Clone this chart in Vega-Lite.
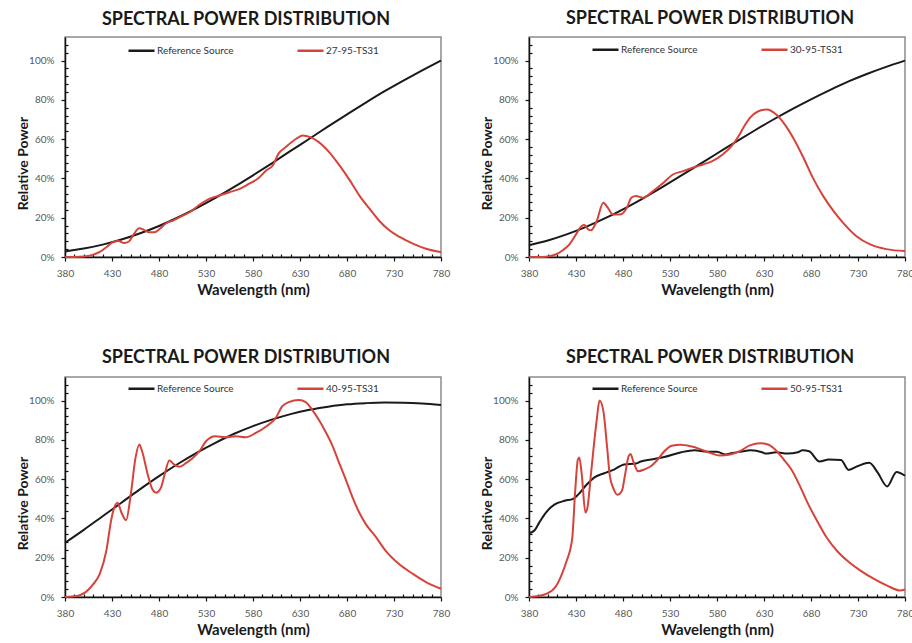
{
"$schema": "https://vega.github.io/schema/vega-lite/v6.json",
"padding": {"left": 15, "top": 9, "right": 0, "bottom": 0},
"background": "white",
"config": {
  "view": {"stroke": "#8c8c8c", "strokeWidth": 1.5},
  "axis": {"domainColor": "#111", "domainWidth": 1.5, "tickColor": "#111", "tickWidth": 1.2, "labelColor": "#595959", "labelFont": "Lato", "labelFontSize": 10, "titleFont": "Lato", "titleFontWeight": "bold", "titleColor": "#1a1a1a", "grid": false, "labelOverlap": false, "labelFlush": false},
  "title": {"font": "Lato", "fontSize": 18, "fontWeight": "bold", "color": "#1a1a1a", "dx": -7, "offset": 7},
  "legend": {"labelFont": "Lato", "labelFontSize": 10, "labelColor": "#333"}
},
"data": {"values": [
{"p":1,"s":"Reference Source","w":380,"v":2.8},{"p":1,"s":"Reference Source","w":400,"v":4.3},{"p":1,"s":"Reference Source","w":420,"v":6.3},{"p":1,"s":"Reference Source","w":440,"v":8.9},{"p":1,"s":"Reference Source","w":460,"v":12.1},{"p":1,"s":"Reference Source","w":480,"v":15.8},{"p":1,"s":"Reference Source","w":500,"v":20.1},{"p":1,"s":"Reference Source","w":520,"v":24.9},{"p":1,"s":"Reference Source","w":540,"v":30.1},{"p":1,"s":"Reference Source","w":560,"v":35.7},{"p":1,"s":"Reference Source","w":580,"v":41.6},{"p":1,"s":"Reference Source","w":600,"v":47.7},{"p":1,"s":"Reference Source","w":620,"v":54.0},{"p":1,"s":"Reference Source","w":640,"v":60.2},{"p":1,"s":"Reference Source","w":660,"v":66.5},{"p":1,"s":"Reference Source","w":680,"v":72.6},{"p":1,"s":"Reference Source","w":700,"v":78.6},{"p":1,"s":"Reference Source","w":720,"v":84.4},{"p":1,"s":"Reference Source","w":740,"v":89.8},{"p":1,"s":"Reference Source","w":760,"v":95.0},{"p":1,"s":"Reference Source","w":780,"v":100},
{"p":1,"s":"27-95-TS31","w":380,"v":0},{"p":1,"s":"27-95-TS31","w":390,"v":0},{"p":1,"s":"27-95-TS31","w":400,"v":0.2},{"p":1,"s":"27-95-TS31","w":410,"v":1.2},{"p":1,"s":"27-95-TS31","w":417,"v":2.6},{"p":1,"s":"27-95-TS31","w":424,"v":5},{"p":1,"s":"27-95-TS31","w":431,"v":7.6},{"p":1,"s":"27-95-TS31","w":437,"v":8.1},{"p":1,"s":"27-95-TS31","w":443,"v":7.1},{"p":1,"s":"27-95-TS31","w":448,"v":7.9},{"p":1,"s":"27-95-TS31","w":453,"v":11.5},{"p":1,"s":"27-95-TS31","w":459,"v":14.6},{"p":1,"s":"27-95-TS31","w":464,"v":13.8},{"p":1,"s":"27-95-TS31","w":469,"v":12.6},{"p":1,"s":"27-95-TS31","w":475,"v":12.6},{"p":1,"s":"27-95-TS31","w":481,"v":14.4},{"p":1,"s":"27-95-TS31","w":488,"v":17.3},{"p":1,"s":"27-95-TS31","w":495,"v":18.6},{"p":1,"s":"27-95-TS31","w":502,"v":20.3},{"p":1,"s":"27-95-TS31","w":513,"v":22.9},{"p":1,"s":"27-95-TS31","w":523,"v":26.6},{"p":1,"s":"27-95-TS31","w":534,"v":29.7},{"p":1,"s":"27-95-TS31","w":545,"v":31.4},{"p":1,"s":"27-95-TS31","w":555,"v":33},{"p":1,"s":"27-95-TS31","w":566,"v":34.7},{"p":1,"s":"27-95-TS31","w":576,"v":37.3},{"p":1,"s":"27-95-TS31","w":585,"v":39.8},{"p":1,"s":"27-95-TS31","w":594,"v":44},{"p":1,"s":"27-95-TS31","w":601,"v":46.6},{"p":1,"s":"27-95-TS31","w":607,"v":52.5},{"p":1,"s":"27-95-TS31","w":615,"v":56},{"p":1,"s":"27-95-TS31","w":626,"v":60.2},{"p":1,"s":"27-95-TS31","w":633,"v":61.9},{"p":1,"s":"27-95-TS31","w":641,"v":61},{"p":1,"s":"27-95-TS31","w":650,"v":58.5},{"p":1,"s":"27-95-TS31","w":661,"v":53.4},{"p":1,"s":"27-95-TS31","w":672,"v":46.6},{"p":1,"s":"27-95-TS31","w":683,"v":39},{"p":1,"s":"27-95-TS31","w":693,"v":31.4},{"p":1,"s":"27-95-TS31","w":704,"v":24.6},{"p":1,"s":"27-95-TS31","w":714,"v":18.6},{"p":1,"s":"27-95-TS31","w":725,"v":13.6},{"p":1,"s":"27-95-TS31","w":736,"v":10.2},{"p":1,"s":"27-95-TS31","w":750,"v":6.8},{"p":1,"s":"27-95-TS31","w":764,"v":4.2},{"p":1,"s":"27-95-TS31","w":780,"v":2.5},
{"p":2,"s":"Reference Source","w":380,"v":6.0},{"p":2,"s":"Reference Source","w":400,"v":8.4},{"p":2,"s":"Reference Source","w":420,"v":11.5},{"p":2,"s":"Reference Source","w":440,"v":15.2},{"p":2,"s":"Reference Source","w":460,"v":19.5},{"p":2,"s":"Reference Source","w":480,"v":24.3},{"p":2,"s":"Reference Source","w":500,"v":29.5},{"p":2,"s":"Reference Source","w":520,"v":35.1},{"p":2,"s":"Reference Source","w":540,"v":40.9},{"p":2,"s":"Reference Source","w":560,"v":46.8},{"p":2,"s":"Reference Source","w":580,"v":52.7},{"p":2,"s":"Reference Source","w":600,"v":58.6},{"p":2,"s":"Reference Source","w":620,"v":64.4},{"p":2,"s":"Reference Source","w":640,"v":70.0},{"p":2,"s":"Reference Source","w":660,"v":75.3},{"p":2,"s":"Reference Source","w":680,"v":80.3},{"p":2,"s":"Reference Source","w":700,"v":85.0},{"p":2,"s":"Reference Source","w":720,"v":89.4},{"p":2,"s":"Reference Source","w":740,"v":93.3},{"p":2,"s":"Reference Source","w":760,"v":96.8},{"p":2,"s":"Reference Source","w":780,"v":100},
{"p":2,"s":"30-95-TS31","w":380,"v":0},{"p":2,"s":"30-95-TS31","w":390,"v":0},{"p":2,"s":"30-95-TS31","w":400,"v":0.3},{"p":2,"s":"30-95-TS31","w":409,"v":1.4},{"p":2,"s":"30-95-TS31","w":416,"v":3.4},{"p":2,"s":"30-95-TS31","w":423,"v":6.4},{"p":2,"s":"30-95-TS31","w":430,"v":11.5},{"p":2,"s":"30-95-TS31","w":436,"v":15.8},{"p":2,"s":"30-95-TS31","w":439,"v":16.3},{"p":2,"s":"30-95-TS31","w":443,"v":14},{"p":2,"s":"30-95-TS31","w":446,"v":13.6},{"p":2,"s":"30-95-TS31","w":452,"v":18.3},{"p":2,"s":"30-95-TS31","w":459,"v":27.6},{"p":2,"s":"30-95-TS31","w":464,"v":25},{"p":2,"s":"30-95-TS31","w":469,"v":21.7},{"p":2,"s":"30-95-TS31","w":477,"v":21.7},{"p":2,"s":"30-95-TS31","w":484,"v":25},{"p":2,"s":"30-95-TS31","w":489,"v":30.2},{"p":2,"s":"30-95-TS31","w":494,"v":31},{"p":2,"s":"30-95-TS31","w":501,"v":30.2},{"p":2,"s":"30-95-TS31","w":512,"v":33.6},{"p":2,"s":"30-95-TS31","w":523,"v":37.8},{"p":2,"s":"30-95-TS31","w":533,"v":42},{"p":2,"s":"30-95-TS31","w":544,"v":43.7},{"p":2,"s":"30-95-TS31","w":554,"v":45.4},{"p":2,"s":"30-95-TS31","w":565,"v":47.1},{"p":2,"s":"30-95-TS31","w":575,"v":48.8},{"p":2,"s":"30-95-TS31","w":586,"v":52.2},{"p":2,"s":"30-95-TS31","w":597,"v":57.3},{"p":2,"s":"30-95-TS31","w":604,"v":62.4},{"p":2,"s":"30-95-TS31","w":608,"v":65.8},{"p":2,"s":"30-95-TS31","w":615,"v":70.8},{"p":2,"s":"30-95-TS31","w":624,"v":74.2},{"p":2,"s":"30-95-TS31","w":633,"v":75.1},{"p":2,"s":"30-95-TS31","w":643,"v":72.5},{"p":2,"s":"30-95-TS31","w":652,"v":67.5},{"p":2,"s":"30-95-TS31","w":661,"v":60.7},{"p":2,"s":"30-95-TS31","w":672,"v":50.5},{"p":2,"s":"30-95-TS31","w":682,"v":40.3},{"p":2,"s":"30-95-TS31","w":693,"v":31},{"p":2,"s":"30-95-TS31","w":704,"v":23.4},{"p":2,"s":"30-95-TS31","w":714,"v":17.5},{"p":2,"s":"30-95-TS31","w":728,"v":10.7},{"p":2,"s":"30-95-TS31","w":743,"v":6.4},{"p":2,"s":"30-95-TS31","w":760,"v":4},{"p":2,"s":"30-95-TS31","w":780,"v":3},
{"p":3,"s":"Reference Source","w":380,"v":27.6},{"p":3,"s":"Reference Source","w":400,"v":34.2},{"p":3,"s":"Reference Source","w":420,"v":41.1},{"p":3,"s":"Reference Source","w":440,"v":48.0},{"p":3,"s":"Reference Source","w":460,"v":54.9},{"p":3,"s":"Reference Source","w":480,"v":61.5},{"p":3,"s":"Reference Source","w":500,"v":67.7},{"p":3,"s":"Reference Source","w":520,"v":73.4},{"p":3,"s":"Reference Source","w":540,"v":78.5},{"p":3,"s":"Reference Source","w":560,"v":83.1},{"p":3,"s":"Reference Source","w":580,"v":87.0},{"p":3,"s":"Reference Source","w":600,"v":90.3},{"p":3,"s":"Reference Source","w":620,"v":93.1},{"p":3,"s":"Reference Source","w":640,"v":95.3},{"p":3,"s":"Reference Source","w":660,"v":96.9},{"p":3,"s":"Reference Source","w":680,"v":98.1},{"p":3,"s":"Reference Source","w":700,"v":98.7},{"p":3,"s":"Reference Source","w":720,"v":99.0},{"p":3,"s":"Reference Source","w":740,"v":98.9},{"p":3,"s":"Reference Source","w":760,"v":98.5},{"p":3,"s":"Reference Source","w":780,"v":97.8},
{"p":3,"s":"40-95-TS31","w":380,"v":0},{"p":3,"s":"40-95-TS31","w":388,"v":0.3},{"p":3,"s":"40-95-TS31","w":395,"v":0.8},{"p":3,"s":"40-95-TS31","w":402,"v":2.5},{"p":3,"s":"40-95-TS31","w":409,"v":5.9},{"p":3,"s":"40-95-TS31","w":417,"v":11.8},{"p":3,"s":"40-95-TS31","w":424,"v":23.6},{"p":3,"s":"40-95-TS31","w":429,"v":38.8},{"p":3,"s":"40-95-TS31","w":432,"v":45},{"p":3,"s":"40-95-TS31","w":436,"v":48},{"p":3,"s":"40-95-TS31","w":440,"v":43},{"p":3,"s":"40-95-TS31","w":445,"v":39.1},{"p":3,"s":"40-95-TS31","w":450,"v":52.3},{"p":3,"s":"40-95-TS31","w":455,"v":70.8},{"p":3,"s":"40-95-TS31","w":459,"v":77.6},{"p":3,"s":"40-95-TS31","w":462,"v":74.2},{"p":3,"s":"40-95-TS31","w":468,"v":62.4},{"p":3,"s":"40-95-TS31","w":473,"v":54.8},{"p":3,"s":"40-95-TS31","w":477,"v":53.1},{"p":3,"s":"40-95-TS31","w":482,"v":55.6},{"p":3,"s":"40-95-TS31","w":486,"v":62.4},{"p":3,"s":"40-95-TS31","w":491,"v":69.5},{"p":3,"s":"40-95-TS31","w":496,"v":67.5},{"p":3,"s":"40-95-TS31","w":502,"v":66.3},{"p":3,"s":"40-95-TS31","w":509,"v":68.3},{"p":3,"s":"40-95-TS31","w":516,"v":70.8},{"p":3,"s":"40-95-TS31","w":523,"v":74.2},{"p":3,"s":"40-95-TS31","w":530,"v":79.3},{"p":3,"s":"40-95-TS31","w":540,"v":81.8},{"p":3,"s":"40-95-TS31","w":551,"v":81.3},{"p":3,"s":"40-95-TS31","w":562,"v":81.8},{"p":3,"s":"40-95-TS31","w":572,"v":81.3},{"p":3,"s":"40-95-TS31","w":583,"v":83.5},{"p":3,"s":"40-95-TS31","w":594,"v":86.8},{"p":3,"s":"40-95-TS31","w":604,"v":91},{"p":3,"s":"40-95-TS31","w":611,"v":97},{"p":3,"s":"40-95-TS31","w":618,"v":99.2},{"p":3,"s":"40-95-TS31","w":629,"v":100.3},{"p":3,"s":"40-95-TS31","w":636,"v":99.2},{"p":3,"s":"40-95-TS31","w":643,"v":95.3},{"p":3,"s":"40-95-TS31","w":650,"v":90.2},{"p":3,"s":"40-95-TS31","w":657,"v":84.3},{"p":3,"s":"40-95-TS31","w":664,"v":77.6},{"p":3,"s":"40-95-TS31","w":671,"v":69.1},{"p":3,"s":"40-95-TS31","w":678,"v":60.7},{"p":3,"s":"40-95-TS31","w":686,"v":50.6},{"p":3,"s":"40-95-TS31","w":693,"v":43},{"p":3,"s":"40-95-TS31","w":700,"v":37.1},{"p":3,"s":"40-95-TS31","w":711,"v":30.4},{"p":3,"s":"40-95-TS31","w":721,"v":23.6},{"p":3,"s":"40-95-TS31","w":735,"v":16.9},{"p":3,"s":"40-95-TS31","w":750,"v":11.8},{"p":3,"s":"40-95-TS31","w":764,"v":7.6},{"p":3,"s":"40-95-TS31","w":780,"v":4.2},
{"p":4,"s":"Reference Source","w":380,"v":32.5},{"p":4,"s":"Reference Source","w":386,"v":34},{"p":4,"s":"Reference Source","w":391,"v":38},{"p":4,"s":"Reference Source","w":398,"v":43},{"p":4,"s":"Reference Source","w":407,"v":47},{"p":4,"s":"Reference Source","w":418,"v":49},{"p":4,"s":"Reference Source","w":427,"v":50},{"p":4,"s":"Reference Source","w":432,"v":52},{"p":4,"s":"Reference Source","w":441,"v":57},{"p":4,"s":"Reference Source","w":450,"v":61},{"p":4,"s":"Reference Source","w":460,"v":63},{"p":4,"s":"Reference Source","w":471,"v":65},{"p":4,"s":"Reference Source","w":481,"v":67.5},{"p":4,"s":"Reference Source","w":494,"v":68},{"p":4,"s":"Reference Source","w":499,"v":69},{"p":4,"s":"Reference Source","w":510,"v":70},{"p":4,"s":"Reference Source","w":524,"v":71.3},{"p":4,"s":"Reference Source","w":542,"v":73.7},{"p":4,"s":"Reference Source","w":556,"v":74.7},{"p":4,"s":"Reference Source","w":570,"v":74},{"p":4,"s":"Reference Source","w":580,"v":74},{"p":4,"s":"Reference Source","w":589,"v":72.5},{"p":4,"s":"Reference Source","w":596,"v":73.3},{"p":4,"s":"Reference Source","w":605,"v":74},{"p":4,"s":"Reference Source","w":616,"v":74.7},{"p":4,"s":"Reference Source","w":628,"v":73.7},{"p":4,"s":"Reference Source","w":632,"v":73},{"p":4,"s":"Reference Source","w":643,"v":73.7},{"p":4,"s":"Reference Source","w":655,"v":73},{"p":4,"s":"Reference Source","w":666,"v":73.7},{"p":4,"s":"Reference Source","w":671,"v":74.7},{"p":4,"s":"Reference Source","w":678,"v":74.2},{"p":4,"s":"Reference Source","w":689,"v":69},{"p":4,"s":"Reference Source","w":699,"v":70},{"p":4,"s":"Reference Source","w":712,"v":69.7},{"p":4,"s":"Reference Source","w":720,"v":64.7},{"p":4,"s":"Reference Source","w":730,"v":66.7},{"p":4,"s":"Reference Source","w":742,"v":68.3},{"p":4,"s":"Reference Source","w":751,"v":63.3},{"p":4,"s":"Reference Source","w":761,"v":56.3},{"p":4,"s":"Reference Source","w":771,"v":63.7},{"p":4,"s":"Reference Source","w":780,"v":61.7},
{"p":4,"s":"50-95-TS31","w":380,"v":0},{"p":4,"s":"50-95-TS31","w":390,"v":0.5},{"p":4,"s":"50-95-TS31","w":399,"v":1.7},{"p":4,"s":"50-95-TS31","w":408,"v":5},{"p":4,"s":"50-95-TS31","w":415,"v":11.7},{"p":4,"s":"50-95-TS31","w":420,"v":18.3},{"p":4,"s":"50-95-TS31","w":426,"v":30},{"p":4,"s":"50-95-TS31","w":429,"v":53},{"p":4,"s":"50-95-TS31","w":432,"v":70},{"p":4,"s":"50-95-TS31","w":433.5,"v":71},{"p":4,"s":"50-95-TS31","w":436,"v":63},{"p":4,"s":"50-95-TS31","w":440,"v":43},{"p":4,"s":"50-95-TS31","w":442,"v":45},{"p":4,"s":"50-95-TS31","w":446,"v":63},{"p":4,"s":"50-95-TS31","w":452,"v":90},{"p":4,"s":"50-95-TS31","w":455,"v":100},{"p":4,"s":"50-95-TS31","w":459,"v":95},{"p":4,"s":"50-95-TS31","w":463,"v":76.7},{"p":4,"s":"50-95-TS31","w":466,"v":61.7},{"p":4,"s":"50-95-TS31","w":470,"v":55},{"p":4,"s":"50-95-TS31","w":474,"v":52},{"p":4,"s":"50-95-TS31","w":479,"v":54.2},{"p":4,"s":"50-95-TS31","w":482,"v":61.7},{"p":4,"s":"50-95-TS31","w":486,"v":71.7},{"p":4,"s":"50-95-TS31","w":488,"v":72.8},{"p":4,"s":"50-95-TS31","w":491,"v":69},{"p":4,"s":"50-95-TS31","w":496,"v":64},{"p":4,"s":"50-95-TS31","w":503,"v":65},{"p":4,"s":"50-95-TS31","w":510,"v":66.7},{"p":4,"s":"50-95-TS31","w":517,"v":70},{"p":4,"s":"50-95-TS31","w":524,"v":74.2},{"p":4,"s":"50-95-TS31","w":532,"v":77},{"p":4,"s":"50-95-TS31","w":541,"v":77.5},{"p":4,"s":"50-95-TS31","w":552,"v":76.7},{"p":4,"s":"50-95-TS31","w":562,"v":75.3},{"p":4,"s":"50-95-TS31","w":573,"v":73.3},{"p":4,"s":"50-95-TS31","w":583,"v":72},{"p":4,"s":"50-95-TS31","w":594,"v":72.5},{"p":4,"s":"50-95-TS31","w":604,"v":74.2},{"p":4,"s":"50-95-TS31","w":615,"v":77.2},{"p":4,"s":"50-95-TS31","w":626,"v":78.3},{"p":4,"s":"50-95-TS31","w":635,"v":77.5},{"p":4,"s":"50-95-TS31","w":642,"v":75},{"p":4,"s":"50-95-TS31","w":651,"v":70},{"p":4,"s":"50-95-TS31","w":659,"v":65},{"p":4,"s":"50-95-TS31","w":668,"v":56.7},{"p":4,"s":"50-95-TS31","w":676,"v":48.3},{"p":4,"s":"50-95-TS31","w":687,"v":38.3},{"p":4,"s":"50-95-TS31","w":697,"v":30},{"p":4,"s":"50-95-TS31","w":708,"v":23.3},{"p":4,"s":"50-95-TS31","w":719,"v":18.3},{"p":4,"s":"50-95-TS31","w":733,"v":13.3},{"p":4,"s":"50-95-TS31","w":747,"v":9.2},{"p":4,"s":"50-95-TS31","w":761,"v":5.8},{"p":4,"s":"50-95-TS31","w":775,"v":3.3},{"p":4,"s":"50-95-TS31","w":780,"v":3.8}
]},
"vconcat": [
 {"hconcat": [
  {"width": 376, "height": 220, "title": "SPECTRAL POWER DISTRIBUTION",
   "transform": [{"filter": "datum.p === 1"}],
   "mark": {"type": "line", "interpolate": "monotone", "strokeWidth": 2},
   "encoding": {
    "x": {"field": "w", "type": "quantitative", "title": "Wavelength (nm)", "scale": {"domain": [380, 780], "nice": false, "zero": false},
      "axis": {"values": [380,390,400,410,420,430,440,450,460,470,480,490,500,510,520,530,540,550,560,570,580,590,600,610,620,630,640,650,660,670,680,690,700,710,720,730,740,750,760,770,780], "labelExpr": "(datum.value - 380) % 50 === 0 ? datum.label : ''", "tickSize": {"condition": {"test": "(datum.value - 380) % 50 === 0", "value": 4}, "value": -3}, "labelPadding": 7, "titleFontSize": 15, "titlePadding": 4}},
    "y": {"field": "v", "type": "quantitative", "title": "Relative Power", "scale": {"domain": [0, 112], "nice": false},
      "axis": {"values": [0,4,8,12,16,20,24,28,32,36,40,44,48,52,56,60,64,68,72,76,80,84,88,92,96,100,104,108], "labelExpr": "datum.value % 20 === 0 ? datum.value + '%' : ''", "tickSize": {"condition": {"test": "datum.value % 20 === 0", "value": 4}, "value": -3}, "labelPadding": 7, "titleFontSize": 14, "titlePadding": -2, "titleY": 126}},
    "color": {"field": "s", "type": "nominal", "scale": {"domain": ["Reference Source", "27-95-TS31"], "range": ["#1a1a1a", "#d7423b"]},
      "legend": {"orient": "none", "legendX": 62, "legendY": -1, "direction": "horizontal", "title": null, "symbolType": "stroke", "symbolSize": 676, "symbolStrokeWidth": 2.5, "columnPadding": 58, "labelOffset": 1}}
   }},
  {"width": 376, "height": 220, "title": "SPECTRAL POWER DISTRIBUTION",
   "transform": [{"filter": "datum.p === 2"}],
   "mark": {"type": "line", "interpolate": "monotone", "strokeWidth": 2},
   "encoding": {
    "x": {"field": "w", "type": "quantitative", "title": "Wavelength (nm)", "scale": {"domain": [380, 780], "nice": false, "zero": false},
      "axis": {"values": [380,390,400,410,420,430,440,450,460,470,480,490,500,510,520,530,540,550,560,570,580,590,600,610,620,630,640,650,660,670,680,690,700,710,720,730,740,750,760,770,780], "labelExpr": "(datum.value - 380) % 50 === 0 ? datum.label : ''", "tickSize": {"condition": {"test": "(datum.value - 380) % 50 === 0", "value": 4}, "value": -3}, "labelPadding": 7, "titleFontSize": 15, "titlePadding": 4}},
    "y": {"field": "v", "type": "quantitative", "title": "Relative Power", "scale": {"domain": [0, 112], "nice": false},
      "axis": {"values": [0,4,8,12,16,20,24,28,32,36,40,44,48,52,56,60,64,68,72,76,80,84,88,92,96,100,104,108], "labelExpr": "datum.value % 20 === 0 ? datum.value + '%' : ''", "tickSize": {"condition": {"test": "datum.value % 20 === 0", "value": 4}, "value": -3}, "labelPadding": 7, "titleFontSize": 14, "titlePadding": -2, "titleY": 126}},
    "color": {"field": "s", "type": "nominal", "scale": {"domain": ["Reference Source", "30-95-TS31"], "range": ["#1a1a1a", "#d7423b"]},
      "legend": {"orient": "none", "legendX": 62, "legendY": -2, "direction": "horizontal", "title": null, "symbolType": "stroke", "symbolSize": 676, "symbolStrokeWidth": 2.5, "columnPadding": 58, "labelOffset": 1}}
   }}
 ], "spacing": 88, "bounds": "flush", "resolve": {"scale": {"color": "independent"}, "legend": {"color": "independent"}}},
 {"hconcat": [
  {"width": 376, "height": 220, "title": "SPECTRAL POWER DISTRIBUTION",
   "transform": [{"filter": "datum.p === 3"}],
   "mark": {"type": "line", "interpolate": "monotone", "strokeWidth": 2},
   "encoding": {
    "x": {"field": "w", "type": "quantitative", "title": "Wavelength (nm)", "scale": {"domain": [380, 780], "nice": false, "zero": false},
      "axis": {"values": [380,390,400,410,420,430,440,450,460,470,480,490,500,510,520,530,540,550,560,570,580,590,600,610,620,630,640,650,660,670,680,690,700,710,720,730,740,750,760,770,780], "labelExpr": "(datum.value - 380) % 50 === 0 ? datum.label : ''", "tickSize": {"condition": {"test": "(datum.value - 380) % 50 === 0", "value": 4}, "value": -3}, "labelPadding": 7, "titleFontSize": 15, "titlePadding": 4}},
    "y": {"field": "v", "type": "quantitative", "title": "Relative Power", "scale": {"domain": [0, 112], "nice": false},
      "axis": {"values": [0,4,8,12,16,20,24,28,32,36,40,44,48,52,56,60,64,68,72,76,80,84,88,92,96,100,104,108], "labelExpr": "datum.value % 20 === 0 ? datum.value + '%' : ''", "tickSize": {"condition": {"test": "datum.value % 20 === 0", "value": 4}, "value": -3}, "labelPadding": 7, "titleFontSize": 14, "titlePadding": -2, "titleY": 126}},
    "color": {"field": "s", "type": "nominal", "scale": {"domain": ["Reference Source", "40-95-TS31"], "range": ["#1a1a1a", "#d7423b"]},
      "legend": {"orient": "none", "legendX": 62, "legendY": -3, "direction": "horizontal", "title": null, "symbolType": "stroke", "symbolSize": 676, "symbolStrokeWidth": 2.5, "columnPadding": 58, "labelOffset": 1}}
   }},
  {"width": 376, "height": 220, "title": "SPECTRAL POWER DISTRIBUTION",
   "transform": [{"filter": "datum.p === 4"}],
   "mark": {"type": "line", "interpolate": "monotone", "strokeWidth": 2},
   "encoding": {
    "x": {"field": "w", "type": "quantitative", "title": "Wavelength (nm)", "scale": {"domain": [380, 780], "nice": false, "zero": false},
      "axis": {"values": [380,390,400,410,420,430,440,450,460,470,480,490,500,510,520,530,540,550,560,570,580,590,600,610,620,630,640,650,660,670,680,690,700,710,720,730,740,750,760,770,780], "labelExpr": "(datum.value - 380) % 50 === 0 ? datum.label : ''", "tickSize": {"condition": {"test": "(datum.value - 380) % 50 === 0", "value": 4}, "value": -3}, "labelPadding": 7, "titleFontSize": 15, "titlePadding": 4}},
    "y": {"field": "v", "type": "quantitative", "title": "Relative Power", "scale": {"domain": [0, 112], "nice": false},
      "axis": {"values": [0,4,8,12,16,20,24,28,32,36,40,44,48,52,56,60,64,68,72,76,80,84,88,92,96,100,104,108], "labelExpr": "datum.value % 20 === 0 ? datum.value + '%' : ''", "tickSize": {"condition": {"test": "datum.value % 20 === 0", "value": 4}, "value": -3}, "labelPadding": 7, "titleFontSize": 14, "titlePadding": -2, "titleY": 126}},
    "color": {"field": "s", "type": "nominal", "scale": {"domain": ["Reference Source", "50-95-TS31"], "range": ["#1a1a1a", "#d7423b"]},
      "legend": {"orient": "none", "legendX": 62, "legendY": -3, "direction": "horizontal", "title": null, "symbolType": "stroke", "symbolSize": 676, "symbolStrokeWidth": 2.5, "columnPadding": 58, "labelOffset": 1}}
   }}
 ], "spacing": 88, "bounds": "flush", "resolve": {"scale": {"color": "independent"}, "legend": {"color": "independent"}}}
],
"spacing": 50, "bounds": "full",
"resolve": {"scale": {"color": "independent"}, "legend": {"color": "independent"}}
}
